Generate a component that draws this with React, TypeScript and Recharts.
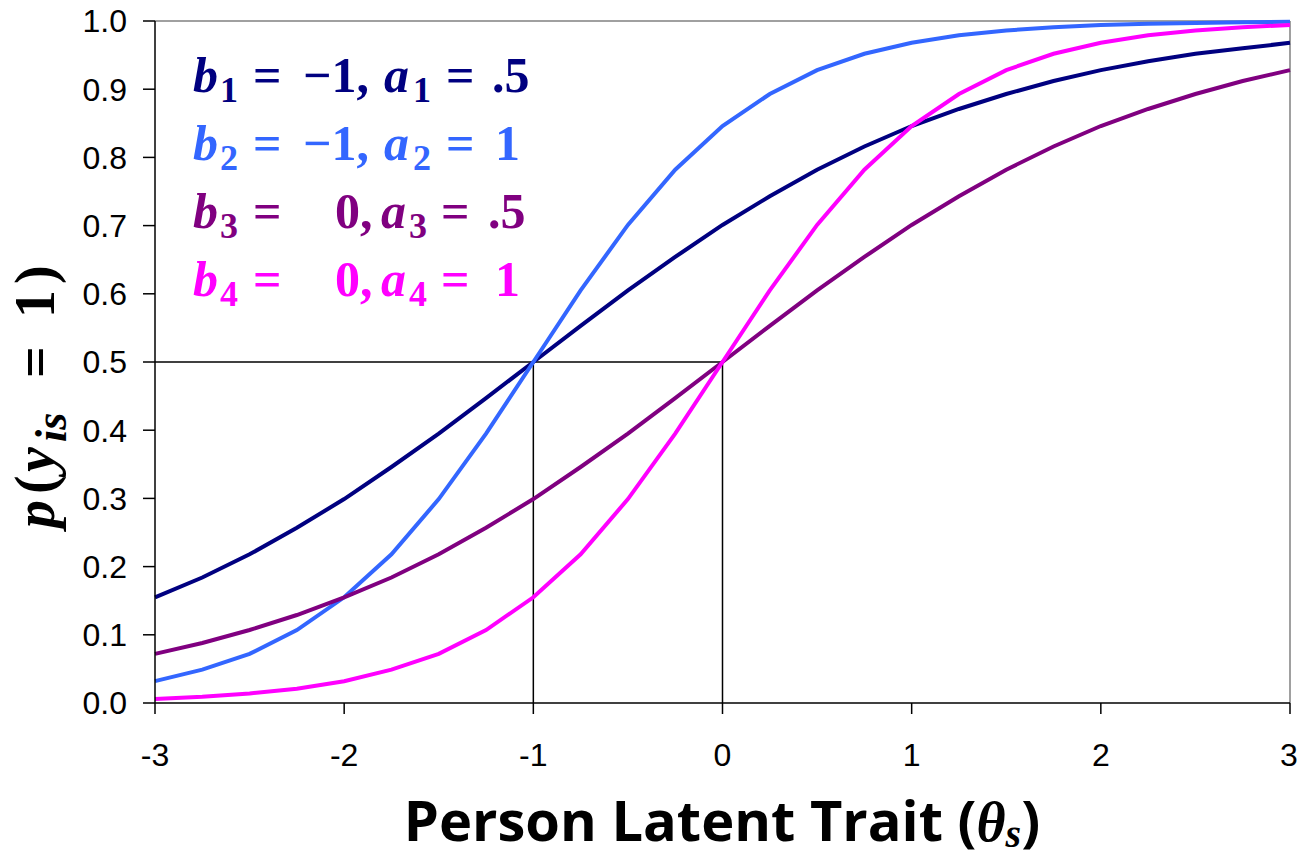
import React from 'react';
import { LineChart, Line, XAxis, YAxis, ReferenceLine } from 'recharts';

// person trait grid, one point every quarter unit
const thetas = [
  -3, -2.75, -2.5, -2.25, -2, -1.75, -1.5, -1.25, -1, -0.75, -0.5, -0.25, 0,
  0.25, 0.5, 0.75, 1, 1.25, 1.5, 1.75, 2, 2.25, 2.5, 2.75, 3,
];

// item response curves
const item1 = [
  0.155, 0.184, 0.218, 0.257, 0.299, 0.346, 0.395, 0.447, 0.5, 0.553, 0.605, 0.654, 0.701,
  0.743, 0.782, 0.816, 0.846, 0.871, 0.893, 0.912, 0.928, 0.941, 0.952, 0.96, 0.968,
];
const item2 = [
  0.032, 0.049, 0.072, 0.107, 0.155, 0.218, 0.299, 0.395, 0.5, 0.605, 0.701, 0.782, 0.846,
  0.893, 0.928, 0.952, 0.968, 0.979, 0.986, 0.991, 0.994, 0.996, 0.997, 0.998, 0.999,
];
const item3 = [
  0.072, 0.088, 0.107, 0.129, 0.155, 0.184, 0.218, 0.257, 0.299, 0.346, 0.395, 0.447, 0.5,
  0.553, 0.605, 0.654, 0.701, 0.743, 0.782, 0.816, 0.846, 0.871, 0.893, 0.912, 0.928,
];
const item4 = [
  0.006, 0.009, 0.014, 0.021, 0.032, 0.049, 0.072, 0.107, 0.155, 0.218, 0.299, 0.395, 0.5,
  0.605, 0.701, 0.782, 0.846, 0.893, 0.928, 0.952, 0.968, 0.979, 0.986, 0.991, 0.994,
];

const xTicks = [-3, -2, -1, 0, 1, 2, 3];
const yTicks = [0, 0.1, 0.2, 0.3, 0.4, 0.5, 0.6, 0.7, 0.8, 0.9, 1];

const COLORS = ['#000080', '#3366ff', '#800080', '#ff00ff'];

const data = thetas.map((theta, i) => ({
  theta,
  item1: item1[i],
  item2: item2[i],
  item3: item3[i],
  item4: item4[i],
}));

const W = 1297;
const H = 859;
const tickFont = { fontSize: 32, fill: '#000', fontFamily: '"Liberation Sans", Arial, sans-serif' };
const mathFont = '"Liberation Serif", "Times New Roman", serif';

type LegendRow = { color: string; sub: string; b: string; a: string; y: number };

const legendRows: LegendRow[] = [
  { color: COLORS[0], sub: '1', b: '\u22121,', a: '.5', y: 92 },
  { color: COLORS[1], sub: '2', b: '\u22121,', a: '1', y: 160 },
  { color: COLORS[2], sub: '3', b: '0,', a: '.5', y: 228 },
  { color: COLORS[3], sub: '4', b: '0,', a: '1', y: 296 },
];

const Overlay = () => (
  <svg width={W} height={H} style={{ position: 'absolute', left: 0, top: 0, pointerEvents: 'none' }}>
    {legendRows.map((r) => {
      const negative = r.b.startsWith('\u2212');
      return (
        <text key={r.sub} fill={r.color} fontFamily={mathFont} fontWeight="bold" fontSize={50}>
          <tspan x={193} y={r.y} fontStyle="italic">b</tspan>
          <tspan x={220} y={r.y + 10} fontSize={36}>{r.sub}</tspan>
          <tspan x={253} y={r.y}>=</tspan>
          <tspan x={negative ? 303 : 335} y={r.y}>{r.b}</tspan>
          <tspan x={negative ? 384 : 381} y={r.y} fontStyle="italic">a</tspan>
          <tspan x={negative ? 413 : 409} y={r.y + 10} fontSize={36}>{r.sub}</tspan>
          <tspan x={negative ? 446 : 441} y={r.y}>=</tspan>
          <tspan x={r.a === '1' ? 495 : negative ? 492 : 488} y={r.y}>{r.a}</tspan>
        </text>
      );
    })}

    {/* vertical axis title */}
    <g transform="translate(54,528) rotate(-90)">
      <text fill="#000" fontFamily={mathFont} fontWeight="bold" fontSize={56}>
        <tspan x={0} y={0} fontStyle="italic">p</tspan>
        <tspan x={34} y={0}>(</tspan>
        <tspan x={56} y={0} fontStyle="italic">y</tspan>
        <tspan x={86} y={12} fontStyle="italic" fontSize={44}>is</tspan>
        <tspan x={150} y={0}>=</tspan>
        <tspan x={210} y={0}>1</tspan>
        <tspan x={244} y={0}>)</tspan>
      </text>
    </g>

    {/* horizontal axis title */}
    <text x={722} y={841} textAnchor="middle" fill="#000" fontFamily='"Open Sans", sans-serif' fontWeight="bold" fontSize={56}>
      Person Latent Trait (
      <tspan fontFamily={mathFont} fontStyle="italic">θ</tspan>
      <tspan fontFamily={mathFont} fontStyle="italic" fontSize={40} dy={6}>s</tspan>
      <tspan dy={-6}>)</tspan>
    </text>
  </svg>
);

export default function App() {
  return (
    <div style={{ position: 'absolute', left: 0, top: 0, width: W, height: H, background: '#fff' }}>
      <LineChart width={W} height={H} data={data} margin={{ top: 21, right: 7, left: 95, bottom: 96 }}>
        <XAxis
          dataKey="theta"
          type="number"
          domain={[-3, 3]}
          ticks={xTicks}
          height={60}
          tick={tickFont}
          tickSize={11}
          tickMargin={29}
          axisLine={{ stroke: '#000', strokeWidth: 1.5 }}
          tickLine={{ stroke: '#000', strokeWidth: 1.5 }}
        />
        <YAxis
          type="number"
          domain={[0, 1]}
          ticks={yTicks}
          width={60}
          tick={tickFont}
          tickSize={12}
          tickMargin={16}
          tickFormatter={(v: number) => v.toFixed(1)}
          axisLine={{ stroke: '#000', strokeWidth: 1.5 }}
          tickLine={{ stroke: '#000', strokeWidth: 1.5 }}
        />
        <ReferenceLine y={1} stroke="#a0a0a0" strokeWidth={2} />
        <ReferenceLine x={3} stroke="#a0a0a0" strokeWidth={2} />
        <ReferenceLine segment={[{ x: -3, y: 0.5 }, { x: 0, y: 0.5 }]} stroke="#000" strokeWidth={1.5} />
        <ReferenceLine segment={[{ x: -1, y: 0 }, { x: -1, y: 0.5 }]} stroke="#000" strokeWidth={1.5} />
        <ReferenceLine segment={[{ x: 0, y: 0 }, { x: 0, y: 0.5 }]} stroke="#000" strokeWidth={1.5} />
        <Line type="linear" dataKey="item1" stroke={COLORS[0]} strokeWidth={4} dot={false} isAnimationActive={false} />
        <Line type="linear" dataKey="item2" stroke={COLORS[1]} strokeWidth={4} dot={false} isAnimationActive={false} />
        <Line type="linear" dataKey="item3" stroke={COLORS[2]} strokeWidth={4} dot={false} isAnimationActive={false} />
        <Line type="linear" dataKey="item4" stroke={COLORS[3]} strokeWidth={4} dot={false} isAnimationActive={false} />
      </LineChart>
      <Overlay />
    </div>
  );
}
